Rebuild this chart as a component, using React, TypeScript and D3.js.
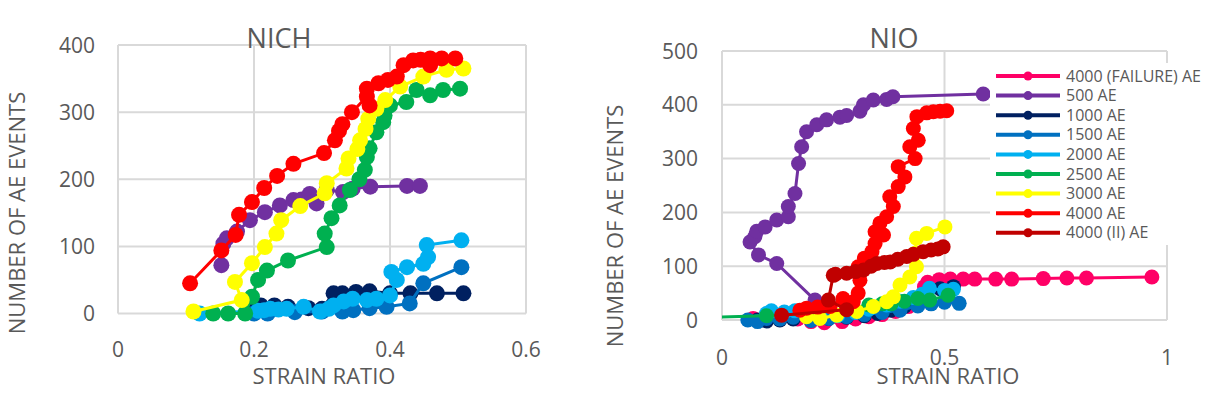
import React from 'react';
import * as d3 from 'd3';

type Pt = [number, number];

// ---- NICH (left) ----
const nich500: Pt[] = [[0.152, 72], [0.155, 104], [0.16, 112], [0.175, 122], [0.194, 139], [0.216, 151], [0.238, 161], [0.258, 169], [0.27, 170], [0.282, 178], [0.292, 164], [0.307, 184], [0.331, 181], [0.345, 186], [0.371, 189], [0.425, 190], [0.444, 190]];
const nich1000: Pt[] = [[0.2, 5], [0.21, 12], [0.23, 12], [0.25, 10], [0.28, 8], [0.3, 7], [0.317, 30], [0.33, 30], [0.35, 32], [0.37, 33], [0.4, 30], [0.43, 30], [0.469, 30], [0.508, 30]];
const nich1500: Pt[] = [[0.2, 0], [0.22, 0], [0.26, 2], [0.3, 3], [0.33, 3], [0.346, 5], [0.37, 8], [0.395, 10], [0.429, 15], [0.449, 45], [0.505, 69]];
const nich2000: Pt[] = [[0.12, 0], [0.206, 4], [0.215, 5], [0.224, 7], [0.236, 6], [0.248, 7], [0.273, 10], [0.297, 3], [0.31, 7], [0.317, 12], [0.332, 18], [0.345, 22], [0.366, 20], [0.38, 22], [0.4, 27], [0.41, 50], [0.402, 62], [0.425, 69], [0.449, 74], [0.456, 84], [0.454, 102], [0.505, 109]];
const nich2500: Pt[] = [[0.14, 0], [0.162, 0], [0.187, 0], [0.197, 25], [0.206, 50], [0.219, 64], [0.25, 79], [0.307, 99], [0.304, 119], [0.314, 142], [0.326, 161], [0.341, 184], [0.355, 200], [0.363, 214], [0.366, 233], [0.37, 246], [0.38, 270], [0.39, 285], [0.392, 295], [0.4, 310], [0.424, 315], [0.439, 333], [0.459, 325], [0.478, 333], [0.503, 335]];
const nich3000: Pt[] = [[0.111, 3], [0.182, 20], [0.172, 47], [0.197, 75], [0.216, 99], [0.233, 119], [0.24, 139], [0.268, 160], [0.304, 179], [0.307, 194], [0.336, 216], [0.339, 231], [0.352, 245], [0.356, 258], [0.364, 275], [0.368, 290], [0.38, 305], [0.393, 318], [0.415, 338], [0.449, 353], [0.483, 363], [0.508, 365]];
const nich4000: Pt[] = [[0.106, 45], [0.152, 94], [0.173, 117], [0.178, 147], [0.197, 166], [0.215, 187], [0.234, 205], [0.258, 223], [0.303, 239], [0.319, 258], [0.325, 272], [0.33, 282], [0.344, 300], [0.366, 323], [0.37, 310], [0.366, 335], [0.383, 343], [0.397, 348], [0.41, 353], [0.42, 370], [0.434, 377], [0.445, 378], [0.459, 370], [0.459, 380], [0.476, 380], [0.496, 380]];

// ---- NIO (right) ----
const nioFail: Pt[] = [[0.07, 3], [0.1, 5], [0.13, 3], [0.17, 2], [0.2, -3], [0.23, -5], [0.27, -3], [0.3, 2], [0.33, 6], [0.36, 10], [0.39, 16], [0.42, 25], [0.44, 40], [0.455, 62], [0.462, 70], [0.488, 75], [0.513, 76], [0.542, 76], [0.568, 76], [0.615, 76], [0.651, 76], [0.722, 77], [0.775, 78], [0.819, 78], [0.966, 80]];
const nio500: Pt[] = [[0.209, 37], [0.123, 105], [0.082, 121], [0.063, 145], [0.074, 155], [0.078, 165], [0.097, 173], [0.123, 186], [0.149, 192], [0.149, 211], [0.164, 235], [0.172, 291], [0.179, 322], [0.19, 350], [0.213, 363], [0.235, 372], [0.265, 377], [0.28, 380], [0.31, 388], [0.318, 400], [0.34, 409], [0.37, 410], [0.384, 415], [0.587, 420]];
const nio1000: Pt[] = [[0.08, 0], [0.1, -2], [0.13, 0], [0.16, 2], [0.2, 2], [0.24, 3], [0.28, 5], [0.32, 8], [0.35, 12], [0.38, 18], [0.41, 25], [0.44, 38], [0.46, 50], [0.49, 58], [0.52, 62]];
const nio1500: Pt[] = [[0.058, 0], [0.08, -3], [0.1, 3], [0.13, 2], [0.16, 5], [0.2, -1], [0.24, 3], [0.28, 6], [0.32, 10], [0.36, 14], [0.4, 18], [0.44, 26], [0.47, 30], [0.5, 33], [0.533, 31]];
const nio2000: Pt[] = [[0.1, 12], [0.111, 17], [0.14, 15], [0.164, 17], [0.19, 10], [0.22, 6], [0.26, 8], [0.3, 14], [0.33, 20], [0.37, 28], [0.4, 35], [0.43, 42], [0.45, 48], [0.466, 59], [0.5, 55], [0.52, 57]];
const nio2500: Pt[] = [[-0.03, 5], [0.1, 8], [0.2, 12], [0.28, 20], [0.33, 28], [0.36, 30], [0.38, 30], [0.41, 35], [0.44, 40], [0.467, 37], [0.508, 46]];
const nio3000: Pt[] = [[0.19, 6], [0.22, 3], [0.258, 9], [0.303, 16], [0.34, 25], [0.37, 34], [0.385, 43], [0.4, 65], [0.422, 80], [0.437, 99], [0.434, 124], [0.437, 152], [0.46, 161], [0.501, 173]];
const nio4000: Pt[] = [[0.175, 18], [0.19, 22], [0.215, 24], [0.243, 25], [0.272, 40], [0.295, 34], [0.306, 50], [0.31, 74], [0.306, 99], [0.32, 115], [0.337, 127], [0.344, 142], [0.363, 158], [0.344, 164], [0.355, 180], [0.37, 192], [0.385, 211], [0.377, 229], [0.396, 248], [0.411, 266], [0.396, 285], [0.434, 300], [0.422, 322], [0.441, 334], [0.43, 356], [0.438, 378], [0.46, 385], [0.475, 387], [0.49, 388], [0.505, 389]];
const nio4000b: Pt[] = [[0.134, 9], [0.28, 19], [0.239, 37], [0.25, 83], [0.255, 85], [0.28, 87], [0.3, 90], [0.318, 93], [0.335, 100], [0.348, 105], [0.365, 107], [0.378, 108], [0.395, 113], [0.415, 118], [0.43, 122], [0.452, 127], [0.47, 130], [0.485, 132], [0.497, 136]];

const nichNames = ['500 AE', '1000 AE', '1500 AE', '2000 AE', '2500 AE', '3000 AE', '4000 AE'];
const nichValues = [nich500, nich1000, nich1500, nich2000, nich2500, nich3000, nich4000];
const nioNames = ['4000 (FAILURE) AE', '500 AE', '1000 AE', '1500 AE', '2000 AE', '2500 AE', '3000 AE', '4000 AE', '4000 (II) AE'];
const nioValues = [nioFail, nio500, nio1000, nio1500, nio2000, nio2500, nio3000, nio4000, nio4000b];

const nichXTicks = [0, 0.2, 0.4, 0.6];
const nichYTicks = [0, 100, 200, 300, 400];
const nioXTicks = [0, 0.5, 1];
const nioYTicks = [0, 100, 200, 300, 400, 500];

const colors: Record<string, string> = {
  '4000 (FAILURE) AE': '#FF0066',
  '500 AE': '#7030A0',
  '1000 AE': '#002060',
  '1500 AE': '#0070C0',
  '2000 AE': '#00B0F0',
  '2500 AE': '#00B050',
  '3000 AE': '#FFFF00',
  '4000 AE': '#FF0000',
  '4000 (II) AE': '#C00000'
};

const FONT = '"Open Sans", sans-serif';
const GREY = '#595959';

interface ChartProps {
  id: string;
  title: string;
  names: string[];
  values: Pt[][];
  xTicks: number[];
  yTicks: number[];
  box: { left: number; right: number; top: number; bottom: number };
  titleX: number;
  yLabelRight: number;
  xLabelY: number;
  xTitleX: number;
  yTitleX: number;
  yTitleY: number;
  r: number;
  legend?: boolean;
}

function Chart(p: ChartProps) {
  const x = d3.scaleLinear().domain([p.xTicks[0], p.xTicks[p.xTicks.length - 1]]).range([p.box.left, p.box.right]);
  const y = d3.scaleLinear().domain([p.yTicks[0], p.yTicks[p.yTicks.length - 1]]).range([p.box.bottom, p.box.top]);
  const line = d3.line<Pt>().x((d) => x(d[0])).y((d) => y(d[1]));
  const legendRows = p.names.map((n, i) => 76 + i * 19.6);

  return (
    <g>
      <defs>
        <clipPath id={`clip-${p.id}`}>
          <rect x={p.box.left} y={0} width={1213 - p.box.left} height={403} />
        </clipPath>
      </defs>
      {/* grid */}
      {p.yTicks.map((t) => (
        <line key={`gy${t}`} x1={p.box.left} x2={p.box.right} y1={y(t)} y2={y(t)} stroke="#D9D9D9" strokeWidth={2} />
      ))}
      {p.xTicks.map((t) => (
        <line key={`gx${t}`} x1={x(t)} x2={x(t)} y1={p.box.top} y2={p.box.bottom} stroke="#D9D9D9" strokeWidth={2} />
      ))}
      {/* tick labels */}
      {p.yTicks.map((t) => (
        <text key={`ty${t}`} x={p.yLabelRight} y={y(t) + 7.5} textAnchor="end" fontSize={21} fill={GREY} fontFamily={FONT}>
          {t}
        </text>
      ))}
      {p.xTicks.map((t) => (
        <text key={`tx${t}`} x={x(t)} y={p.xLabelY} textAnchor="middle" fontSize={21} fill={GREY} fontFamily={FONT}>
          {t}
        </text>
      ))}
      {/* titles */}
      <text x={p.titleX} y={48} textAnchor="middle" fontSize={27} fill={GREY} fontFamily={FONT}>
        {p.title}
      </text>
      <text x={p.xTitleX} y={384} textAnchor="middle" fontSize={22} fill={GREY} fontFamily={FONT}>
        STRAIN RATIO
      </text>
      <text
        transform={`translate(${p.yTitleX},${p.yTitleY}) rotate(-90)`}
        y={8}
        textAnchor="middle"
        fontSize={22}
        fill={GREY}
        fontFamily={FONT}
      >
        NUMBER OF AE EVENTS
      </text>
      {/* series */}
      <g clipPath={`url(#clip-${p.id})`}>
        {p.values.map((pts, i) => (
          <g key={p.names[i]}>
            <path d={line(pts) || ''} fill="none" stroke={colors[p.names[i]]} strokeWidth={3} />
            {pts.map((d, j) => (
              <circle key={j} cx={x(d[0])} cy={y(d[1])} r={p.r} fill={colors[p.names[i]]} />
            ))}
          </g>
        ))}
      </g>
      {p.legend && (
        <g>
          <rect x={990} y={63} width={223} height={182} fill="#ffffff" />
          {p.names.map((n, i) => (
            <g key={`lg${n}`}>
              <line x1={996} x2={1060} y1={legendRows[i]} y2={legendRows[i]} stroke={colors[n]} strokeWidth={4} />
              <circle cx={1028} cy={legendRows[i]} r={4.5} fill={colors[n]} />
              <text x={1066} y={legendRows[i] + 5.5} fontSize={16} fill={GREY} fontFamily={FONT}>
                {n}
              </text>
            </g>
          ))}
        </g>
      )}
    </g>
  );
}

export default function App(): JSX.Element {
  return (
    <svg
      width={1213}
      height={403}
      style={{ position: 'absolute', left: 0, top: 0, background: '#ffffff', display: 'block' }}
    >
      <rect width={1213} height={403} fill="#ffffff" />
      <Chart
        id="nich"
        title="NICH"
        names={nichNames}
        values={nichValues}
        xTicks={nichXTicks}
        yTicks={nichYTicks}
        box={{ left: 118, right: 526, top: 45, bottom: 313.5 }}
        titleX={279}
        yLabelRight={95}
        xLabelY={357}
        xTitleX={324}
        yTitleX={17}
        yTitleY={213}
        r={8}
      />
      <Chart
        id="nio"
        title="NIO"
        names={nioNames}
        values={nioValues}
        xTicks={nioXTicks}
        yTicks={nioYTicks}
        box={{ left: 722, right: 1167, top: 51, bottom: 320 }}
        titleX={894}
        yLabelRight={698}
        xLabelY={365}
        xTitleX={948}
        yTitleX={615}
        yTitleY={226}
        r={7.5}
        legend
      />
    </svg>
  );
}
